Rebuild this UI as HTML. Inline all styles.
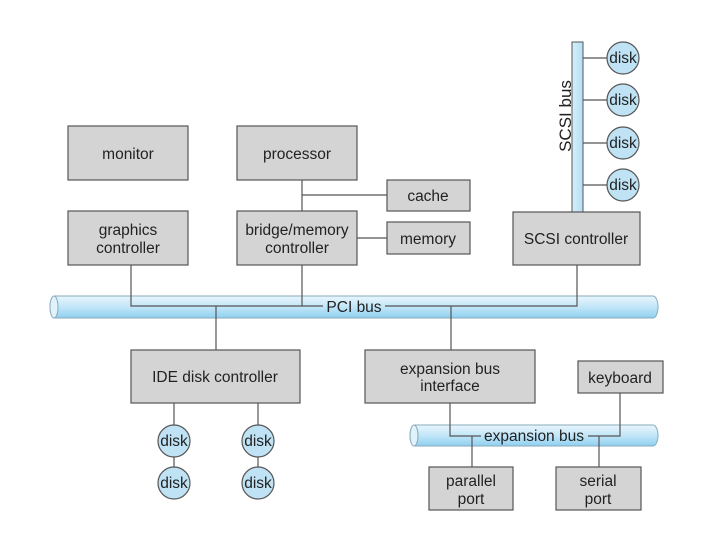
<!DOCTYPE html>
<html><head><style>
body{margin:0;background:#fff}
svg{display:block}
text{font-family:"Liberation Sans",sans-serif;font-size:15.5px;fill:#222;text-anchor:middle}
.b{fill:#d4d4d4;stroke:#555;stroke-width:1.2}
.l{stroke:#555;stroke-width:1.2;fill:none}
.d{fill:#bfe3f5;stroke:#555;stroke-width:1.2}
</style></head><body>
<svg width="725" height="537" viewBox="0 0 725 537">
<defs>
<linearGradient id="g" x1="0" y1="0" x2="0" y2="1">
<stop offset="0" stop-color="#e8f6fd"/><stop offset="0.5" stop-color="#c2e6f8"/><stop offset="1" stop-color="#8fd0f0"/>
</linearGradient>
<linearGradient id="gv" x1="0" y1="0" x2="1" y2="0">
<stop offset="0" stop-color="#d6effb"/><stop offset="1" stop-color="#b5def4"/>
</linearGradient>
</defs>
<rect x="50" y="296" width="608" height="22" rx="5" ry="11" fill="url(#g)" stroke="#8ab" stroke-width="1"/>
<ellipse cx="54" cy="307" rx="4" ry="11" fill="#e0f3fb" stroke="#8ab"/>
<rect x="410" y="425" width="248" height="21" rx="5" ry="10.5" fill="url(#g)" stroke="#8ab" stroke-width="1"/>
<ellipse cx="414" cy="435.5" rx="4" ry="10.5" fill="#e0f3fb" stroke="#8ab"/>
<rect x="572" y="42" width="11" height="170" fill="url(#gv)" stroke="#555" stroke-width="1"/>
<text transform="translate(566,116) rotate(-90)" dy="5" style="font-size:17px">SCSI bus</text>

<path class="l" d="M131 265V306H323M302 265V306M385 306H577V265M216 306V350M451 306V350M302 180V211M302 195H387M357 238H387"/>
<path class="l" d="M583 58H607M583 100H607M583 143H607M583 185H607"/>
<path class="l" d="M174 403V425M258 403V425M174 457V467M258 457V467"/>
<path class="l" d="M450 403V436H481M588 436H620V393M472 436V467M599 436V467"/>
<text x="354" y="312">PCI bus</text>
<text x="534" y="441">expansion bus</text>

<rect class="b" x="68" y="126" width="120" height="54"/><text x="128" y="159">monitor</text>
<rect class="b" x="237" y="126" width="120" height="54"/><text x="297" y="159">processor</text>
<rect class="b" x="387" y="180" width="83" height="31"/><text x="428" y="201">cache</text>
<rect class="b" x="68" y="211" width="120" height="54"/><text x="128" y="235">graphics</text><text x="128" y="253">controller</text>
<rect class="b" x="237" y="211" width="120" height="54"/><text x="297" y="235">bridge/memory</text><text x="297" y="253">controller</text>
<rect class="b" x="387" y="222" width="83" height="32"/><text x="428" y="244">memory</text>
<rect class="b" x="513" y="212" width="127" height="53"/><text x="576" y="244">SCSI controller</text>
<rect class="b" x="131" y="350" width="169" height="53"/><text x="215" y="382">IDE disk controller</text>
<rect class="b" x="365" y="350" width="170" height="53"/><text x="450" y="374">expansion bus</text><text x="450" y="391">interface</text>
<rect class="b" x="578" y="361" width="85" height="32"/><text x="620" y="383">keyboard</text>
<rect class="b" x="429" y="467" width="84" height="43"/><text x="471" y="486">parallel</text><text x="471" y="504">port</text>
<rect class="b" x="556" y="467" width="85" height="43"/><text x="598" y="486">serial</text><text x="598" y="504">port</text>

<g>
<circle class="d" cx="623" cy="58" r="16"/><text x="623" y="63">disk</text>
<circle class="d" cx="623" cy="100" r="16"/><text x="623" y="105">disk</text>
<circle class="d" cx="623" cy="143" r="16"/><text x="623" y="148">disk</text>
<circle class="d" cx="623" cy="185" r="16"/><text x="623" y="190">disk</text>
<circle class="d" cx="174" cy="441" r="16"/><text x="174" y="446">disk</text>
<circle class="d" cx="174" cy="483" r="16"/><text x="174" y="488">disk</text>
<circle class="d" cx="258" cy="441" r="16"/><text x="258" y="446">disk</text>
<circle class="d" cx="258" cy="483" r="16"/><text x="258" y="488">disk</text>
</g>
</svg>
</body></html>
